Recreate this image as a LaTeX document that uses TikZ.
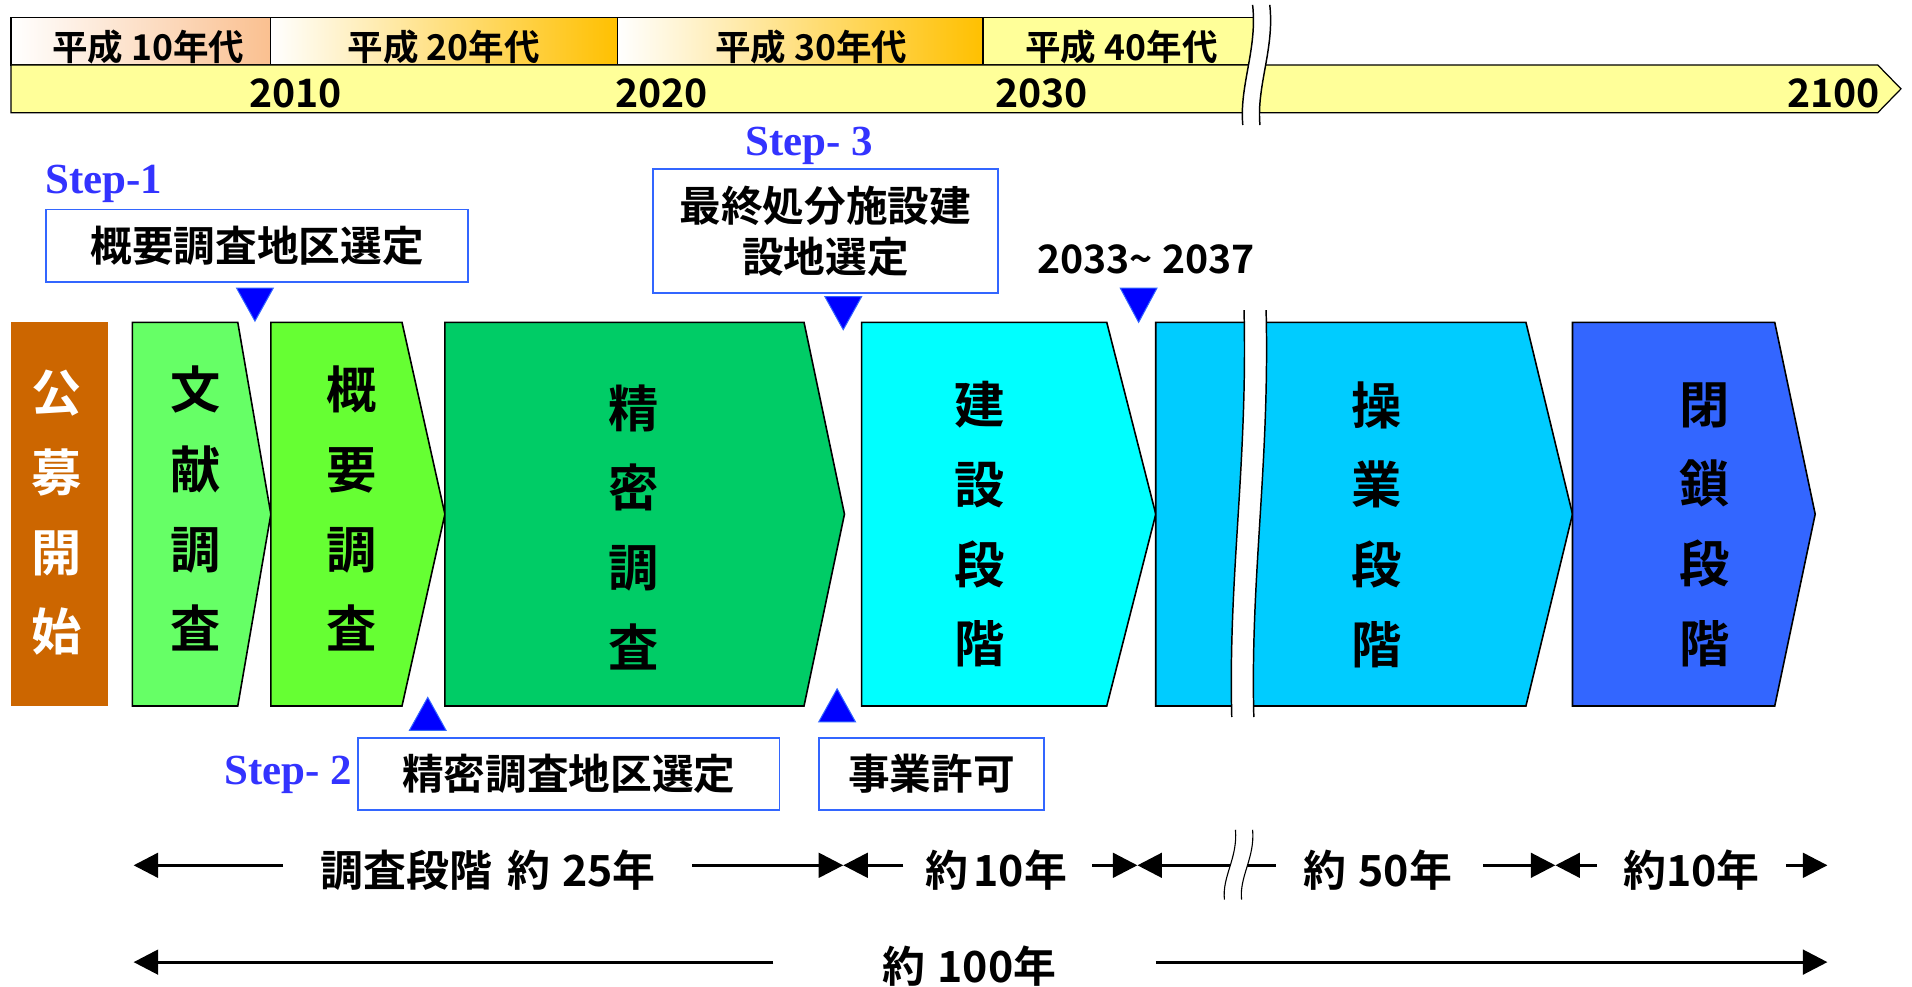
\documentclass[tikz,border=0pt]{standalone}
\usepackage{fontspec}
\setmainfont{Noto Sans CJK JP}[BoldFont={Noto Sans CJK JP Bold}]
\newfontfamily\stepfont{Liberation Serif}
\usetikzlibrary{arrows.meta}
\definecolor{kobo}{HTML}{CC6600}
\definecolor{bunken}{HTML}{66FF66}
\definecolor{gaiyo}{HTML}{66FF33}
\definecolor{seimitsu}{HTML}{00CC66}
\definecolor{kensetsu}{HTML}{00FFFF}
\definecolor{sogyo}{HTML}{00CCFF}
\definecolor{heisa}{HTML}{3366FF}
\definecolor{baryellow}{HTML}{FFFF99}
\definecolor{peach}{HTML}{FAC090}
\definecolor{gold}{HTML}{FFC000}
\definecolor{stepblue}{HTML}{3333FF}
\definecolor{boxblue}{HTML}{3366FF}
\definecolor{markblue}{HTML}{0000FF}
\begin{document}
\begin{tikzpicture}[x=1pt,y=-1pt,
  era/.style={font=\bfseries\fontsize{29}{30}\selectfont, inner sep=0pt},
  yr/.style={font=\bfseries\fontsize{32}{32}\selectfont, inner sep=0pt},
  selbox/.style={draw=boxblue, line width=1.4pt, fill=white, inner sep=0pt,
    font=\bfseries\fontsize{34}{42}\selectfont, align=center},
  steplbl/.style={text=stepblue, inner sep=0pt, font=\stepfont\bfseries\fontsize{35}{35}\selectfont},
  vtxt/.style={inner sep=0pt, align=center, font=\bfseries\fontsize{41}{65}\selectfont},
  phase/.style={draw=black, line width=1.3pt},
  marker/.style={fill=markblue, draw=boxblue, line width=0.8pt},
  dur/.style={inner sep=0pt, font=\bfseries\fontsize{35}{35}\selectfont},
  dim/.style={line width=2.6pt, -{Triangle[length=20pt,width=20pt]}},
  brk/.style={draw=black, line width=1.2pt},
]
\useasboundingbox (0,0) rectangle (1560,804.5);
\fill[white] (0,0) rectangle (1560,804.5);

% ---------- top time line ----------
\shadedraw[left color=white, right color=peach, draw=black, line width=1pt] (9,14) rectangle (221,53);
\shadedraw[left color=white, right color=gold, draw=black, line width=1pt] (221,14) rectangle (504,53);
\shadedraw[left color=white, right color=gold, draw=black, line width=1pt] (504,14) rectangle (802,53);
\filldraw[fill=baryellow, draw=black, line width=1pt] (802,14) rectangle (1030,53);
\filldraw[fill=baryellow, draw=black, line width=1pt] (9,53) -- (1532,53) -- (1551,72.5) -- (1532,92) -- (9,92) -- cycle;
% break in the time line
\fill[white] (1022,4) .. controls (1026,40) and (1011,70) .. (1014,102) -- (1028,102) .. controls (1025,70) and (1040,40) .. (1036,4) -- cycle;
\draw[brk] (1022,4) .. controls (1026,40) and (1011,70) .. (1014,102);
\draw[brk] (1036,4) .. controls (1040,40) and (1025,70) .. (1028,102);

\node[era] (h10) at (121,38.5) {平成 10年代};
\node[era] (h20) at (362,38.5) {平成 20年代};
\node[era] (h30) at (662,38.5) {平成 30年代};
\node[era] (h40) at (915,38.5) {平成 40年代};
\node[yr] (y2010) at (241,76) {2010};
\node[yr] (y2020) at (540,76) {2020};
\node[yr] (y2030) at (850,76) {2030};
\node[yr] (y2100) at (1496,76) {2100};

% ---------- phases ----------
\fill[kobo] (9,263) rectangle (88,576);
\filldraw[phase, fill=bunken] (108,263) -- (194,263) -- (221,419.5) -- (194,576) -- (108,576) -- cycle;
\filldraw[phase, fill=gaiyo] (221,263) -- (328,263) -- (363,419.5) -- (328,576) -- (221,576) -- cycle;
\filldraw[phase, fill=seimitsu] (363,263) -- (656,263) -- (689,419.5) -- (656,576) -- (363,576) -- cycle;
\filldraw[phase, fill=kensetsu] (703,263) -- (903,263) -- (943,419.5) -- (903,576) -- (703,576) -- cycle;
\filldraw[phase, fill=sogyo] (943,263) -- (1245,263) -- (1283,419.5) -- (1245,576) -- (943,576) -- cycle;
\filldraw[phase, fill=heisa] (1283,263) -- (1448,263) -- (1481,419.5) -- (1448,576) -- (1283,576) -- cycle;
% break in operation phase
\fill[white] (1015,253) .. controls (1018,380) and (1002,470) .. (1005,585) -- (1023,585) .. controls (1020,470) and (1036,380) .. (1033,253) -- cycle;
\draw[brk] (1015,253) .. controls (1018,380) and (1002,470) .. (1005,585);
\draw[brk] (1033,253) .. controls (1036,380) and (1020,470) .. (1023,585);

\node[vtxt, text=white] (p0) at (46,418.5) {公\\募\\開\\始};
\node[vtxt] (p1) at (160,415) {文\\献\\調\\査};
\node[vtxt] (p2) at (287,415) {概\\要\\調\\査};
\node[vtxt] (p3) at (517,430) {精\\密\\調\\査};
\node[vtxt] (p4) at (799,428) {建\\設\\段\\階};
\node[vtxt] (p5) at (1123,428) {操\\業\\段\\階};
\node[vtxt] (p6) at (1391,428) {閉\\鎖\\段\\階};

% ---------- steps ----------
\node[steplbl] (s1) at (84.5,150) {Step-1};
\node[selbox, minimum width=344.5pt, minimum height=59pt] (b1) at (209.75,200.5) {概要調査地区選定};
\filldraw[marker] (193,235) -- (223,235) -- (208,262) -- cycle;

\node[steplbl] (s3) at (660,119) {Step- 3};
\node[selbox, minimum width=281pt, minimum height=101pt] (b3) at (673.5,188.5) {最終処分施設建\\設地選定};
\filldraw[marker] (673,242) -- (703,242) -- (688,269) -- cycle;

\node[yr] (y2033) at (935,212) {2033{\char"7E}\ 2037};
\filldraw[marker] (914,235) -- (944,235) -- (929,263) -- cycle;

\node[steplbl] (s2) at (235,632) {Step- 2};
\node[selbox, minimum width=344pt, minimum height=59pt] (b2) at (464,631.5) {精密調査地区選定};
\filldraw[marker] (334,596) -- (364,596) -- (349,569) -- cycle;

\node[selbox, minimum width=184pt, minimum height=59pt] (b4) at (760,631.5) {事業許可};
\filldraw[marker] (668,589) -- (698,589) -- (683,562) -- cycle;

% ---------- durations ----------
\node[dur] (d25) at (398.5,710) {調査段階\hspace{12pt}約\hspace{10pt}25年};
\node[dur] (d10a) at (813,710) {約\hspace{4pt}10年};
\node[dur] (d50) at (1124,710) {約\hspace{10pt}50年};
\node[dur] (d10b) at (1380,710) {約10年};
\node[dur] (d100) at (791,788) {約\hspace{10pt}100年};

\coordinate (a1s) at (231,706);  \coordinate (a1e) at (109,706);
\coordinate (a2s) at (565,706);  \coordinate (a2e) at (688,706);
\coordinate (a3s) at (737,706);  \coordinate (a3e) at (688,706);
\coordinate (a4s) at (891,706);  \coordinate (a4e) at (928,706);
\coordinate (a5s) at (1041,706); \coordinate (a5e) at (928,706);
\coordinate (a6s) at (1210,706); \coordinate (a6e) at (1269,706);
\coordinate (a7s) at (1303,706); \coordinate (a7e) at (1269,706);
\coordinate (a8s) at (1457,706); \coordinate (a8e) at (1491,706);
\coordinate (c1s) at (631,785);  \coordinate (c1e) at (109,785);
\coordinate (c2s) at (943,785);  \coordinate (c2e) at (1491,785);

\draw[dim] (a1s) -- (a1e);
\draw[dim] (a2s) -- (a2e);
\draw[dim] (a3s) -- (a3e);
\draw[dim] (a4s) -- (a4e);
\draw[dim] (a5s) -- (a5e);
\draw[dim] (a6s) -- (a6e);
\draw[dim] (a7s) -- (a7e);
\draw[dim] (a8s) -- (a8e);
\draw[dim] (c1s) -- (c1e);
\draw[dim] (c2s) -- (c2e);

% break in duration line
\fill[white] (1008,677) .. controls (1010,700) and (997,715) .. (999,734) -- (1013,734) .. controls (1011,715) and (1024,700) .. (1022,677) -- cycle;
\draw[line width=0.9pt] (1008,677) .. controls (1010,700) and (997,715) .. (999,734);
\draw[line width=0.9pt] (1022,677) .. controls (1024,700) and (1011,715) .. (1013,734);
\end{tikzpicture}
\end{document}
